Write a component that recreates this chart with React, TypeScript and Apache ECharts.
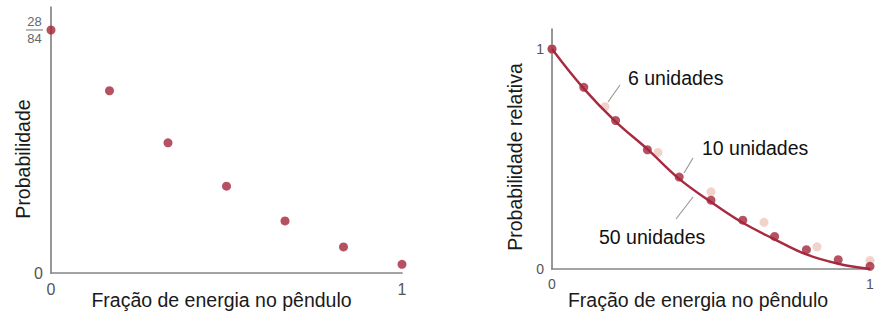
import React, { useEffect, useRef } from "react";
import * as echarts from "echarts";

// Left panel: probability (in units of 1/84) vs energy fraction in pendulum
const leftX = [0, 1 / 6, 2 / 6, 3 / 6, 4 / 6, 5 / 6, 1];
const leftCounts = [28, 21, 15, 10, 6, 3, 1];
const leftYTicks = [0, 28];
const xTicks = [0, 1];

// Right panel: relative probability
const units6X = [0, 1 / 6, 2 / 6, 3 / 6, 4 / 6, 5 / 6, 1];
const units6Y = [1, 0.738, 0.53, 0.351, 0.212, 0.101, 0.039];
const units10X = [0, 0.1, 0.2, 0.3, 0.4, 0.5, 0.6, 0.7, 0.8, 0.9, 1];
const units10Y = [1, 0.826, 0.675, 0.542, 0.418, 0.313, 0.222, 0.148, 0.088, 0.042, 0.012];
const curveX = [0, 0.1, 0.2, 0.3, 0.4, 0.5, 0.6, 0.7, 0.8, 0.9, 1];
const curveY = [1, 0.82, 0.67, 0.545, 0.41, 0.305, 0.21, 0.135, 0.066, 0.024, 0];
const rightYTicks = [0, 1];

const annotations = ["6 unidades", "10 unidades", "50 unidades"];
const xName = "Fração de energia no pêndulo";

const FONT = "'Liberation Sans', Arial, Helvetica, sans-serif";
const DARK = "#a3263a";
const LIGHT = "#eec8bd";
const CURVE = "#a82a3e";
const AXIS = "#858585";
const LEADER = "#9a9a9a";

const zip = (xs: number[], ys: number[]) => xs.map((x, i) => [x, ys[i]]);

export default function App() {
  const ref = useRef<HTMLDivElement>(null);
  useEffect(() => {
    if (!ref.current) return;
    const chart = echarts.init(ref.current, undefined, { renderer: "svg" });
    const axisLine = { show: true, lineStyle: { color: AXIS, width: 1.7 } };
    const option: any = {
      animation: false,
      textStyle: { fontFamily: FONT },
      grid: [
        { left: 51, top: 7, width: 351, height: 266 },
        { left: 552, top: 29, width: 318, height: 240 },
      ],
      xAxis: [
        {
          gridIndex: 0,
          type: "value",
          min: 0,
          max: 1,
          axisLine,
          axisTick: { show: false },
          splitLine: { show: false },
          axisLabel: {
            customValues: xTicks,
            fontSize: 16,
            color: "#555",
            margin: 8,
            formatter: (v: number) => String(v),
          },
          name: xName,
          nameLocation: "middle",
          nameGap: 17,
          nameMoveOverlap: false,
          nameTextStyle: { fontSize: 19.5, color: "#1a1a1a", padding: [0, 10, 0, 0] },
        },
        {
          gridIndex: 1,
          type: "value",
          min: 0,
          max: 1,
          axisLine,
          axisTick: { show: false },
          splitLine: { show: false },
          axisLabel: {
            customValues: xTicks,
            fontSize: 14,
            color: "#555",
            margin: 8,
            formatter: (v: number) => String(v),
          },
          name: xName,
          nameLocation: "middle",
          nameGap: 21,
          nameMoveOverlap: false,
          nameTextStyle: { fontSize: 19.5, color: "#1a1a1a", padding: [0, 26, 0, 0] },
        },
      ],
      yAxis: [
        {
          gridIndex: 0,
          type: "value",
          min: 0,
          max: 30.65,
          axisLine,
          axisTick: { show: false },
          splitLine: { show: false },
          axisLabel: {
            customValues: leftYTicks,
            fontSize: 16,
            color: "#555",
            margin: 8,
            formatter: (v: number) => (v === 28 ? "{n|28}\n{l|}\n{n|84}" : String(v)),
            rich: {
              n: { fontSize: 13, lineHeight: 13, color: "#666", align: "center" },
              l: { width: 17, height: 1.2, lineHeight: 4, backgroundColor: "#888", align: "center" },
            },
          },
          name: "Probabilidade",
          nameLocation: "middle",
          nameGap: 18,
          nameMoveOverlap: false,
          nameTextStyle: { fontSize: 19.5, color: "#1a1a1a", padding: [0, 38, 0, 0] },
        },
        {
          gridIndex: 1,
          type: "value",
          min: 0,
          max: 1.091,
          axisLine,
          axisTick: { show: false },
          splitLine: { show: false },
          axisLabel: {
            customValues: rightYTicks,
            fontSize: 14,
            color: "#555",
            margin: 8,
            formatter: (v: number) => String(v),
          },
          name: "Probabilidade relativa",
          nameLocation: "middle",
          nameGap: 27,
          nameMoveOverlap: false,
          nameTextStyle: { fontSize: 19.5, color: "#1a1a1a", padding: [0, 16, 0, 0] },
        },
      ],
      series: [
        {
          type: "scatter",
          xAxisIndex: 0,
          yAxisIndex: 0,
          data: zip(leftX, leftCounts),
          symbolSize: 9,
          itemStyle: { color: DARK },
        },
        {
          name: "6 unidades",
          type: "scatter",
          xAxisIndex: 1,
          yAxisIndex: 1,
          data: zip(units6X, units6Y),
          symbolSize: 9,
          itemStyle: { color: LIGHT },
          z: 1,
        },
        {
          name: "50 unidades",
          type: "line",
          xAxisIndex: 1,
          yAxisIndex: 1,
          data: zip(curveX, curveY),
          smooth: 0.4,
          showSymbol: false,
          lineStyle: { color: CURVE, width: 2.4 },
          z: 2,
        },
        {
          name: "10 unidades",
          type: "scatter",
          xAxisIndex: 1,
          yAxisIndex: 1,
          data: zip(units10X, units10Y),
          symbolSize: 9,
          itemStyle: { color: DARK },
          z: 3,
        },
      ],
      graphic: [
        { type: "text", x: 628, y: 77.5, style: { text: annotations[0], fontSize: 19.5, fontFamily: FONT, fill: "#111", verticalAlign: "middle" } },
        { type: "text", x: 702, y: 148, style: { text: annotations[1], fontSize: 19.5, fontFamily: FONT, fill: "#111", verticalAlign: "middle" } },
        { type: "text", x: 599, y: 237, style: { text: annotations[2], fontSize: 19.5, fontFamily: FONT, fill: "#111", verticalAlign: "middle" } },
        { type: "line", shape: { x1: 620, y1: 85, x2: 608, y2: 102 }, style: { stroke: LEADER, lineWidth: 1.2 } },
        { type: "line", shape: { x1: 693, y1: 158, x2: 684, y2: 173 }, style: { stroke: LEADER, lineWidth: 1.2 } },
        { type: "line", shape: { x1: 693, y1: 197, x2: 676, y2: 219 }, style: { stroke: LEADER, lineWidth: 1.2 } },
      ],
    };
    chart.setOption(option);
    return () => chart.dispose();
  }, []);
  return (
    <div
      ref={ref}
      style={{ position: "fixed", left: 0, top: 0, width: 884, height: 322, background: "#fff" }}
    />
  );
}
